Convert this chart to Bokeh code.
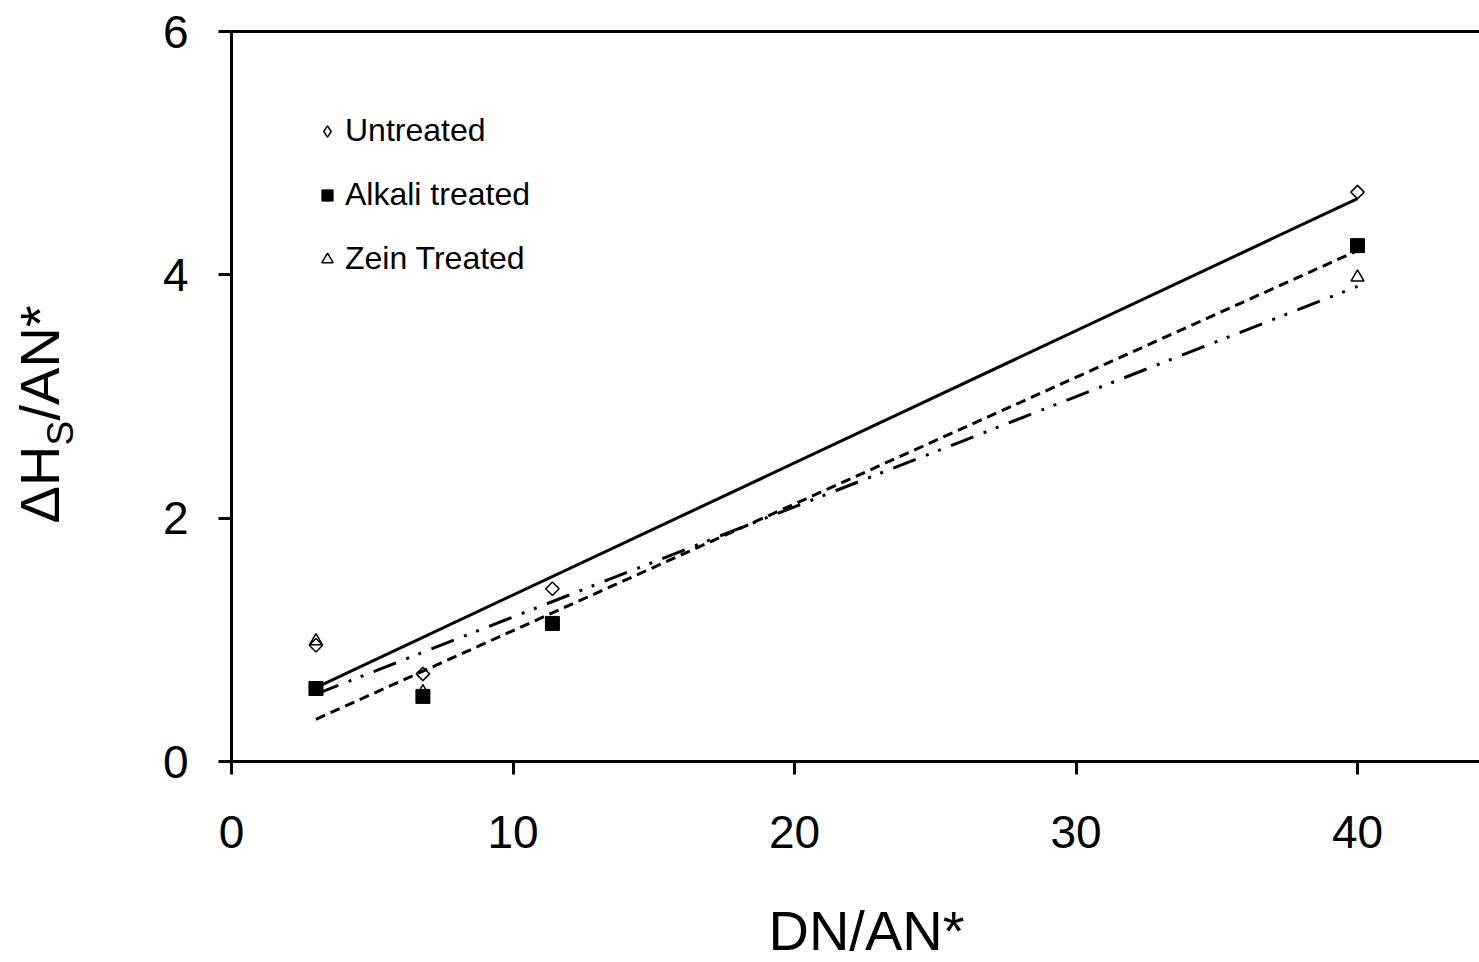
import numpy as np
from bokeh.plotting import figure
from bokeh.models import Range1d, LinearAxis, FixedTicker, Label, Legend, LegendItem
from bokeh.embed import file_html
from bokeh.resources import INLINE

# Donor/acceptor number ratio (x) and the specific interaction term (y) per fibre treatment
dn_an = [3.0, 6.8, 11.4, 40.0]
untreated = [0.955, 0.72, 1.42, 4.68]
alkali = [0.60, 0.535, 1.135, 4.24]
zein = [0.99, 0.57, 1.13, 3.98]

series_names = ["Untreated", "Alkali treated", "Zein Treated"]
x_ticks = [0, 10, 20, 30, 40]
y_ticks = [0, 2, 4, 6]

FONT = "Liberation Sans"
W, H = 1479, 962

# The frame fills the whole canvas; the axes are pinned at x=0 / y=0 inside it,
# which leaves room for the axis titles around the plotting box.
X_PX, Y_PX = 28.15, 730 / 6          # pixels per data unit
X0_PX, Y0_PX = 231, 761              # canvas position of the origin
x_lo, x_hi = -X0_PX / X_PX, (W - X0_PX) / X_PX
y_lo, y_hi = -(H - Y0_PX) / Y_PX, Y0_PX / Y_PX

p = figure(width=W, height=H, output_backend="svg", toolbar_location=None,
           x_range=Range1d(x_lo, x_hi), y_range=Range1d(y_lo, y_hi),
           min_border=0, min_border_left=0, min_border_right=0,
           min_border_top=0, min_border_bottom=0)
p.outline_line_color = None
p.grid.visible = False
p.background_fill_color = "white"
p.border_fill_color = "white"

for ax, ticks, bounds in ((p.xaxis[0], x_ticks, (0, x_hi)), (p.yaxis[0], y_ticks, (0, y_ticks[-1]))):
    ax.fixed_location = 0
    ax.bounds = bounds
    ax.ticker = FixedTicker(ticks=ticks)
    ax.axis_line_width = 3
    ax.axis_line_color = "black"
    ax.major_tick_line_width = 3
    ax.major_tick_line_color = "black"
    ax.major_tick_out = 13
    ax.major_tick_in = 0
    ax.minor_tick_line_color = None
    ax.major_label_text_font = FONT
    ax.major_label_text_font_size = "46px"
    ax.major_label_text_color = "black"
p.xaxis.major_label_standoff = 41
p.yaxis.major_label_standoff = 30

# plain frame line along the top of the plotting box
top = LinearAxis(ticker=FixedTicker(ticks=[]), fixed_location=y_ticks[-1], bounds=(0, x_hi),
                 axis_line_width=3, axis_line_color="black",
                 major_tick_line_color=None, minor_tick_line_color=None)
p.add_layout(top, "above")

# least-squares trend lines across the measured range
xs_fit = np.array([min(dn_an), max(dn_an)])
for ys, dash in ((untreated, "solid"), (alkali, "10 6"), (zein, "24 11 3 10 3 11")):
    k, b = np.polyfit(dn_an, ys, 1)
    p.line(xs_fit, k * xs_fit + b, line_color="black", line_width=3, line_dash=dash)

r_u = p.scatter(dn_an, untreated, marker="square", angle=np.pi / 4, size=9.5,
                fill_color=None, line_color="black", line_width=1.5)
r_z = p.scatter(dn_an, zein, marker="triangle", size=13,
                fill_color=None, line_color="black", line_width=1.5)
r_a = p.scatter(dn_an, alkali, marker="square", size=14,
                fill_color="black", line_color="black")

# legend key for the open diamonds: legend swatches are drawn unrotated, so the key
# uses the diamond marker; size 0 keeps it out of the plot itself
u_key = p.scatter(dn_an, untreated, marker="diamond", size=0, fill_color=None,
                  line_color="black", line_width=1.5)

legend = Legend(items=[LegendItem(label=series_names[0], renderers=[u_key]),
                       LegendItem(label=series_names[1], renderers=[r_a]),
                       LegendItem(label=series_names[2], renderers=[r_z])],
                location=(313, H - 277))
legend.label_text_font = FONT
legend.label_text_font_size = "32px"
legend.label_text_color = "black"
legend.glyph_width = 28
legend.glyph_height = 28
legend.label_standoff = 4
legend.spacing = 27
legend.padding = 0
legend.margin = 0
legend.border_line_color = None
legend.background_fill_alpha = 0
p.add_layout(legend)

# axis titles (screen units, measured from the canvas bottom-left)
p.add_layout(Label(x=866, y=32, x_units="screen", y_units="screen", text="DN/AN*",
                   text_align="center", text_baseline="alphabetic",
                   text_font=FONT, text_font_size="56px", text_color="black"))
p.add_layout(Label(x=39, y=H - 523, x_units="screen", y_units="screen", angle=np.pi / 2,
                   text="ΔH", text_align="left", text_baseline="alphabetic",
                   text_font=FONT, text_font_size="56px", text_color="black"))
p.add_layout(Label(x=60, y=H - 445, x_units="screen", y_units="screen", angle=np.pi / 2,
                   text="S", text_align="left", text_baseline="alphabetic",
                   text_font=FONT, text_font_size="37px", text_color="black"))
p.add_layout(Label(x=39, y=H - 420, x_units="screen", y_units="screen", angle=np.pi / 2,
                   text="/AN*", text_align="left", text_baseline="alphabetic",
                   text_font=FONT, text_font_size="56px", text_color="black"))

open("out.html", "w").write(file_html(p, INLINE))
